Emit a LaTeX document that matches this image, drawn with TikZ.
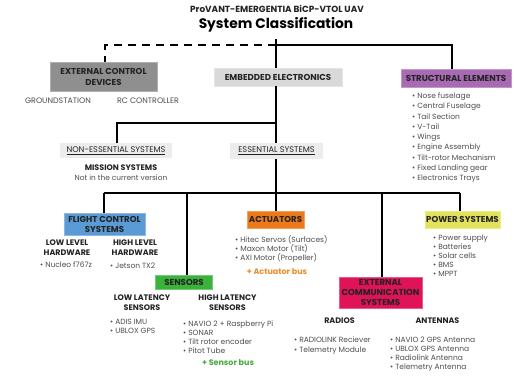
\documentclass[tikz,border=0pt]{standalone}
\usepackage{fontspec}
\setmainfont{Poppins}
\definecolor{txt}{RGB}{78,78,78}
\definecolor{boxtxt}{RGB}{35,35,35}
\definecolor{extgray}{RGB}{143,143,143}
\definecolor{embgray}{RGB}{217,217,217}
\definecolor{essgray}{RGB}{236,236,236}
\definecolor{purp}{RGB}{168,106,178}
\definecolor{fcblue}{RGB}{91,155,213}
\definecolor{actorange}{RGB}{236,122,24}
\definecolor{powyellow}{RGB}{226,226,92}
\definecolor{sengreen}{RGB}{58,178,60}
\definecolor{comred}{RGB}{224,18,88}
\definecolor{busorange}{RGB}{240,140,40}
\definecolor{busgreen}{RGB}{70,172,60}
\begin{document}
\begin{tikzpicture}[x=1pt,y=-1pt,
  conn/.style={line width=1.8pt,black},
  catbox/.style={inner sep=0pt,align=center,text=boxtxt,font=\fontsize{8.6}{10}\selectfont\bfseries,draw=#1!70!white,line width=0.4pt,fill=#1},
  plain/.style={inner sep=0pt,text=txt,font=\fontsize{7.9}{9}\selectfont},
  head/.style={inner sep=0pt,align=center,text=boxtxt,font=\fontsize{8}{10}\selectfont\bfseries},
  blist/.style={inner sep=0pt,anchor=north west,align=left,text=txt,font=\fontsize{7.5}{#1}\selectfont},
  blist/.default=9,
  bus/.style={inner sep=0pt,font=\fontsize{8}{9}\selectfont\bfseries,text=#1}]
\useasboundingbox (0,0) rectangle (514,378);
\fill[white] (0,0) rectangle (514,378);

% titles
\node[inner sep=0pt,text=boxtxt,font=\fontsize{8.9}{10}\selectfont\bfseries] (t1) at (277,9) {ProVANT-EMERGENTIA BiCP-VTOL UAV};
\node[inner sep=0pt,text=black,font=\fontsize{13.8}{15}\selectfont\bfseries] (t2) at (276,25) {System Classification};

% top level categories
\node[catbox=extgray,minimum width=107pt,minimum height=29pt,font=\fontsize{8.6}{11}\selectfont\bfseries] (ext) at (103.5,76.5) {EXTERNAL CONTROL\\DEVICES};
\node[catbox=embgray,minimum width=128pt,minimum height=18pt] (emb) at (278,77) {EMBEDDED ELECTRONICS};
\node[catbox=purp,minimum width=110pt,minimum height=18pt] (str) at (456,78.5) {STRUCTURAL ELEMENTS};

\node[plain] (gs) at (58,101) {GROUNDSTATION};
\node[plain] (rc) at (148,101) {RC CONTROLLER};

\node[blist=10.3] (strlist) at (412,92.5) {• Nose fuselage\\• Central Fuselage\\• Tail Section\\• V-Tail\\• Wings\\• Engine Assembly\\• Tilt-rotor Mechanism\\• Fixed Landing gear\\• Electronics Trays};

% second level
\node[catbox=essgray,draw=none,font=\fontsize{8.2}{9}\selectfont,minimum width=112pt,minimum height=15pt] (noness) at (116,150.5) {\underline{NON-ESSENTIAL SYSTEMS}};
\node[catbox=essgray,draw=none,font=\fontsize{8.2}{9}\selectfont,minimum width=93pt,minimum height=16pt] (ess) at (276.5,151) {\underline{ESSENTIAL SYSTEMS}};

\node[head] (mis) at (121,168) {MISSION SYSTEMS};
\node[plain,font=\fontsize{7.4}{9}\selectfont] (misnote) at (121,177.5) {Not in the current version};

% essential subsystems
\node[catbox=fcblue,minimum width=81pt,minimum height=22pt] (fcs) at (104.5,224) {FLIGHT CONTROL\\SYSTEMS};
\node[catbox=actorange,minimum width=57pt,minimum height=17pt] (act) at (275.5,219.5) {ACTUATORS};
\node[catbox=powyellow,minimum width=75pt,minimum height=17pt] (pow) at (462.5,219.5) {POWER SYSTEMS};
\node[catbox=sengreen,minimum width=57pt,minimum height=14pt] (sen) at (184,282) {SENSORS};
\node[catbox=comred,minimum width=83pt,minimum height=31pt] (ecs) at (380.5,292.5) {EXTERNAL\\COMMUNICATION\\SYSTEMS};

% flight control details
\node[head] (llh) at (67,248) {LOW LEVEL\\HARDWARE};
\node[head] (hlh) at (135,248) {HIGH LEVEL\\HARDWARE};
\node[blist] (lllist) at (40,261.5) {• Nucleo f767z};
\node[blist] (hllist) at (110,262.5) {• Jetson TX2};

% actuators details
\node[blist] (actlist) at (235,235.5) {• Hitec Servos (Surfaces)\\• Maxon Motor (Tilt)\\• AXI Motor (Propeller)};
\node[bus=busorange] (actbus) at (277,272) {+ Actuator bus};

% power details
\node[blist] (powlist) at (433,235) {• Power supply\\• Batteries\\• Solar cells\\• BMS\\• MPPT};

% sensors details
\node[head] (lls) at (142,303) {LOW LATENCY\\SENSORS};
\node[head] (hls) at (227.5,303) {HIGH LATENCY\\SENSORS};
\node[blist] (llslist) at (110,319) {• ADIS IMU\\• UBLOX GPS};
\node[blist] (hlslist) at (183,321) {• NAVIO 2 + Raspberry Pi\\• SONAR\\• Tilt rotor encoder\\• Pitot Tube};
\node[bus=busgreen] (senbus) at (228,363) {+ Sensor bus};

% communication details
\node[head] (rad) at (339.5,321) {RADIOS};
\node[head] (ant) at (437.5,321) {ANTENNAS};
\node[blist=9.5] (radlist) at (294,337) {• RADIOLINK Reciever\\• Telemetry Module};
\node[blist] (antlist) at (390,336.5) {• NAVIO 2 GPS Antenna\\• UBLOX GPS Antenna\\• Radiolink Antenna\\• Telemetry Antenna};

% connectors: top level
\coordinate (top) at (276,39);
\coordinate (hub) at (276,45);
\coordinate (extdrop) at (105,45);
\coordinate (strdrop) at (452,45);
\draw[conn] (top) -- (top |- emb.north);
\draw[conn,dash pattern=on 8pt off 6pt] (hub) -- (extdrop) -- (extdrop |- ext.north);
\draw[conn] (hub) -- (strdrop) -- (strdrop |- str.north);

% connectors: embedded electronics
\coordinate (embout) at (276,123);
\coordinate (nedrop) at (117,123);
\draw[conn] (top |- emb.south) -- (top |- ess.north);
\draw[conn] (embout) -- (nedrop) -- (nedrop |- noness.north);

% connectors: essential systems
\coordinate (bar) at (276,193);
\coordinate (fcsdrop) at (104,193);
\coordinate (sendrop) at (187,193);
\coordinate (ecsdrop) at (382,193);
\coordinate (powdrop) at (460,193);
\draw[conn] (top |- ess.south) -- (bar) -- (top |- act.north);
\draw[conn] (fcsdrop) -- (powdrop);
\draw[conn] (fcsdrop) -- (fcsdrop |- fcs.north);
\draw[conn] (sendrop) -- (sendrop |- sen.north);
\draw[conn] (ecsdrop) -- (ecsdrop |- ecs.north);
\draw[conn] (powdrop) -- (powdrop |- pow.north);
\end{tikzpicture}
\end{document}
